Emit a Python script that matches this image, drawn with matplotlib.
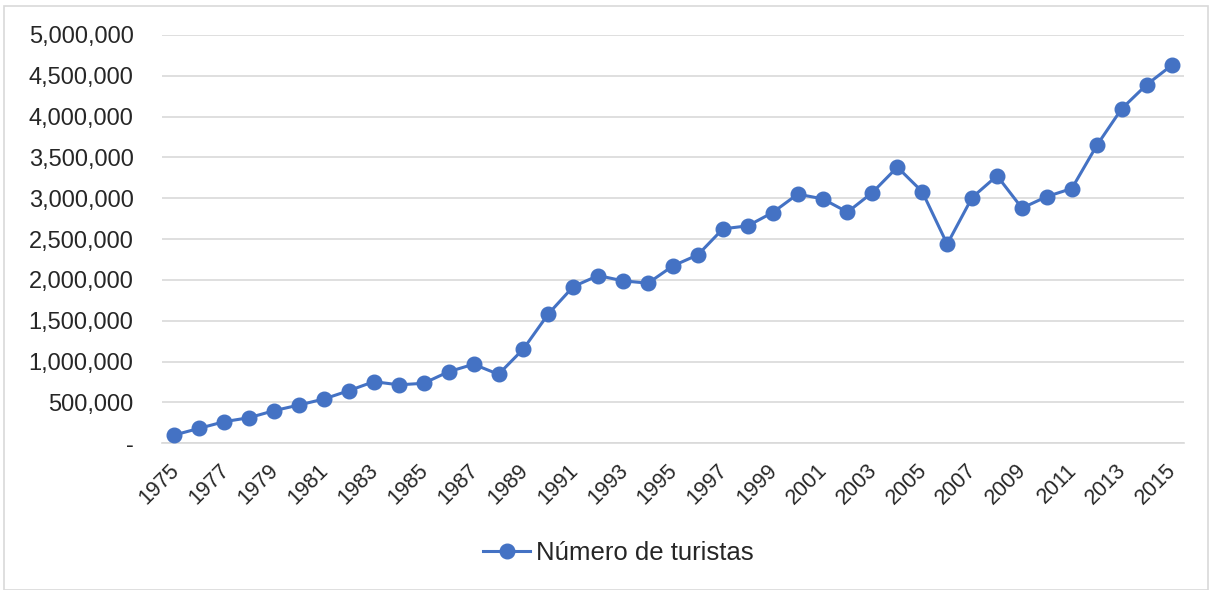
import matplotlib
matplotlib.use("Agg")
import matplotlib.pyplot as plt
from matplotlib.ticker import FuncFormatter, MultipleLocator

plt.rcParams["font.family"] = ["Liberation Sans", "DejaVu Sans"]

YEARS = list(range(1975, 2016))
TOURISTS = [
    102000, 184000, 265000, 314000, 400000, 469000, 543000, 645000, 755000, 716000,
    735000, 877000, 968000, 845000, 1156000, 1585000, 1919000, 2054000, 1989000, 1961000,
    2173000, 2308000, 2626000, 2663000, 2826000, 3051000, 2994000, 2831000, 3071000, 3382000,
    3080000, 2439000, 3010000, 3276000, 2880000, 3022000, 3120000, 3647000, 4097000, 4391000,
    4627000,
]
SERIES_LABEL = "Número de turistas"
LINE_COLOR = "#4472C4"
GRID_COLOR = "#D9D9D9"
TEXT_COLOR = "#262626"


def y_fmt(v, _pos):
    if v == 0:
        return "-"
    return f"{int(v):,}"


fig = plt.figure(figsize=(12.12, 5.9), dpi=100)
ax = fig.add_axes([162 / 1212, 1 - 443.3 / 590, (1184 - 162) / 1212, (443.3 - 35) / 590])

x = list(range(len(YEARS)))
ax.plot(x, TOURISTS, color=LINE_COLOR, linewidth=2.2, marker="o", markersize=10.5,
        label=SERIES_LABEL, zorder=3)

ax.set_xlim(-0.5, len(YEARS) - 0.5)
ax.set_ylim(0, 5000000)
ax.yaxis.set_major_locator(MultipleLocator(500000))
ax.yaxis.set_major_formatter(FuncFormatter(y_fmt))
ax.grid(axis="y", color=GRID_COLOR, linewidth=1.2, zorder=0)
ax.set_axisbelow(True)

# ticks are invisible; nudge the rotated labels a bit left like Excel does
label_nudge = 0.24
ax.set_xticks([i - label_nudge for i in x[::2]])
ax.set_xticklabels([str(y) for y in YEARS[::2]], rotation=45, ha="right", va="top",
                   rotation_mode="anchor", fontsize=15.5, color=TEXT_COLOR)
ax.tick_params(axis="x", length=0, pad=12)
ax.tick_params(axis="y", length=0, pad=20.5, labelsize=17, labelcolor=TEXT_COLOR)

for side in ["top", "right", "left"]:
    ax.spines[side].set_visible(False)
ax.spines["bottom"].set_color(GRID_COLOR)
ax.spines["bottom"].set_linewidth(1.2)

fig.legend(loc="center", bbox_to_anchor=(618 / 1212, 1 - 553 / 590), frameon=False,
           fontsize=18.5, handlelength=1.85, handletextpad=0.2, labelcolor=TEXT_COLOR)

# outer chart border
border = plt.Rectangle((4 / 1212, 0.0), 1 - 8 / 1212, 1 - 6 / 590, transform=fig.transFigure,
                       fill=False, edgecolor=GRID_COLOR, linewidth=1.2)
fig.patches.append(border)

fig.savefig("out.png", dpi=100)
